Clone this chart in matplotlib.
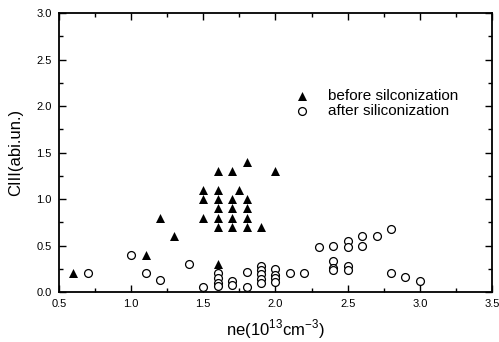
import matplotlib
matplotlib.use("Agg")
import matplotlib.pyplot as plt
from matplotlib.ticker import MultipleLocator, FormatStrFormatter

plt.rcParams['font.family'] = ['Liberation Sans', 'DejaVu Sans']

# before siliconization (filled triangles)
before_x = [0.6, 1.1, 1.2, 1.3,
            1.5, 1.5, 1.5,
            1.6, 1.6, 1.6, 1.6, 1.6, 1.6, 1.6,
            1.7, 1.7, 1.7, 1.7, 1.7, 1.75,
            1.8, 1.8, 1.8, 1.8, 1.8,
            1.9, 2.0]
before_y = [0.2, 0.4, 0.8, 0.6,
            1.1, 1.0, 0.8,
            1.3, 1.1, 1.0, 0.9, 0.8, 0.7, 0.3,
            1.3, 1.0, 0.9, 0.8, 0.7, 1.1,
            1.4, 1.0, 0.9, 0.8, 0.7,
            0.7, 1.3]

# after siliconization (open circles)
after_x = [0.7, 1.0, 1.1, 1.2, 1.4, 1.5,
           1.6, 1.6, 1.6, 1.6,
           1.7, 1.7, 1.8, 1.8,
           1.9, 1.9, 1.9, 1.9, 1.9,
           2.0, 2.0, 2.0, 2.0,
           2.1, 2.2, 2.3,
           2.4, 2.4, 2.4, 2.4,
           2.5, 2.5, 2.5, 2.5,
           2.6, 2.6, 2.7, 2.8, 2.8, 2.9, 3.0]
after_y = [0.2, 0.4, 0.2, 0.13, 0.3, 0.05,
           0.2, 0.15, 0.1, 0.06,
           0.12, 0.08, 0.22, 0.05,
           0.28, 0.24, 0.19, 0.14, 0.10,
           0.25, 0.18, 0.15, 0.11,
           0.21, 0.21, 0.48,
           0.50, 0.33, 0.26, 0.24,
           0.55, 0.48, 0.28, 0.24,
           0.60, 0.50, 0.60, 0.68, 0.20, 0.16, 0.12]

fig = plt.figure(figsize=(4.99, 3.42), dpi=100)
ax = fig.add_axes([0.118, 0.146, 0.868, 0.816])

ax.scatter(before_x, before_y, marker='^', s=42, c='black', linewidths=0,
           label='before silconization', zorder=3)
ax.scatter(after_x, after_y, marker='o', s=32, facecolors='white',
           edgecolors='black', linewidths=0.9,
           label='after siliconization', zorder=3)

ax.set_xlim(0.5, 3.5)
ax.set_ylim(0.0, 3.0)
ax.xaxis.set_major_locator(MultipleLocator(0.5))
ax.xaxis.set_minor_locator(MultipleLocator(0.25))
ax.yaxis.set_major_locator(MultipleLocator(0.5))
ax.yaxis.set_minor_locator(MultipleLocator(0.25))
ax.xaxis.set_major_formatter(FormatStrFormatter('%.1f'))
ax.yaxis.set_major_formatter(FormatStrFormatter('%.1f'))
ax.tick_params(which='both', direction='in', top=True, right=True,
               labelsize=8, width=1.0)
ax.tick_params(which='major', length=5, pad=5)
ax.tick_params(which='minor', length=3)
for sp in ax.spines.values():
    sp.set_linewidth(1.3)

ax.set_xlabel(r'ne(10$^{\mathregular{13}}$cm$^{\mathregular{-3}}$)',
              fontsize=12, labelpad=6)
ax.set_ylabel('CIII(abi.un.)', fontsize=12, labelpad=10)

ax.legend(loc='upper left', bbox_to_anchor=(0.53, 0.75), frameon=False,
          fontsize=11, handletextpad=1.2, labelspacing=0.05,
          borderaxespad=0, handlelength=1)

fig.savefig('out.png', dpi=100)
